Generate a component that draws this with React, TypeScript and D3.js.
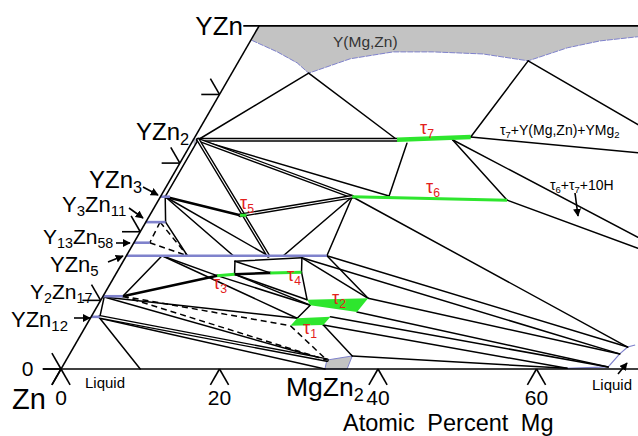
import React from "react";
import * as d3 from "d3";

type C = [number, number]; // [at.% Mg, at.% Y]

// ---- composition data ----
const mgTicks = [0, 20, 40, 60];
const yTicks = [0, 10, 20, 30, 40];

// binary Zn–Y compounds with their Mg solubility (Y at.%, Mg range)
const compoundRanges: { y: number; mg: [number, number] }[] = [
  { y: 7.6, mg: [0, 1.1] },
  { y: 10.6, mg: [0, 2.5] },
  { y: 16.5, mg: [0, 25.3] },
  { y: 18.4, mg: [0, 2.0] },
  { y: 21.4, mg: [0, 2.5] },
  { y: 25.1, mg: [0, 1.2] },
];

// invariant / corner compositions
const P: Record<string, C> = {
  YZn2: [0.6, 33.4], YZn3: [0.6, 25.1], Y3Zn11R: [2.5, 21.4], Y3Zn11D: [1.8, 21.4],
  Y13Zn58R: [2.0, 18.4], Y2Zn17L: [0.2, 10.5], Y2Zn17R: [2.5, 10.6], YZn12R: [1.1, 7.6],
  A1: [9.7, 43.1], A2: [36.5, 44.9],
  t7L: [25.7, 33.4], t7M: [32.7, 33.4], t7R: [34.8, 33.8], t7a: [27.2, 32.9],
  t6L: [24.2, 25.1], t6a: [28.8, 25.2], t6R: [44.0, 24.6],
  t5: [11.4, 22.4],
  z1: [4.5, 16.5], z2: [7.7, 16.5], z3: [13.5, 16.5], z4: [17.9, 16.5], z5: [19.8, 16.5], z6: [25.3, 16.5],
  bTL: [14.1, 15.7], bBL: [15.0, 13.8], bTR: [22.3, 16.2], t4L: [19.4, 14.0], t4R: [23.3, 14.1], t3L: [12.9, 13.6],
  t2a: [26.0, 10.1], t2b: [33.6, 10.3], t2c: [33.2, 8.3], t2d: [26.8, 9.3],
  t1a: [25.8, 6.3], t1b: [26.1, 7.4], t1c: [30.2, 7.6], t1d: [29.9, 6.4],
  m1: [32.9, 1.3], m2: [35.8, 1.9], m3: [36.1, 0], m4: [33.3, 0],
  r0: [70.7, 3.5], r1: [69.9, 3.2], r2: [69.4, 2.2], r3: [68.9, 0.3], r4: [63.8, 0.1],
  e1: [55.0, 35.6], e2: [57.1, 31.5], e3: [63.2, 19.2], e4: [64.0, 17.6],
  L1: [1.2, 7.4], L2: [10.0, 0],
};

const solidLines: [string, string][] = [
  ["YZn2", "A1"], ["A1", "t7L"], ["A2", "t7R"], ["t7R", "e2"], ["A2", "e1"], ["t7M", "t6R"], ["t7M", "e3"],
  ["t6R", "e4"], ["t7a", "t6a"], ["YZn2", "t6a"], ["YZn2", "YZn3"], ["YZn3", "Y3Zn11R"], ["Y3Zn11R", "z2"],
  ["YZn3", "z3"], ["YZn3", "z4"], ["t6L", "z5"], ["t6L", "z6"], ["t6L", "r1"],
  ["z1", "Y2Zn17R"], ["z1", "t3L"], ["z1", "t1b"], ["t3L", "t2d"], ["bTL", "bBL"], ["bTL", "t4L"], ["bTL", "bTR"],
  ["bTR", "t4R"], ["bTR", "t2b"], ["bTR", "r2"], ["t4R", "t2a"], ["bBL", "t2a"], ["bBL", "t2d"], ["t2d", "t1b"],
  ["z6", "t2b"], ["z6", "r1"], ["t2b", "r2"], ["t2c", "r3"], ["t1c", "r3"], ["t1d", "r4"], ["m2", "r4"],
  ["t1d", "m2"], ["Y2Zn17L", "YZn12R"], ["Y2Zn17L", "t1b"], ["Y2Zn17L", "m1"], ["L1", "L2"], ["L1", "m4"],
];
const thickLines: [string, string][] = [["YZn3", "t5"], ["Y2Zn17R", "t3L"], ["bBL", "t4L"]];
const doubleLines: [string, string][] = [["YZn2", "t7L"], ["YZn2", "t6L"], ["YZn2", "z4"], ["t5", "t6L"], ["YZn12R", "m1"]];
const dashedLines: [string, string][] = [
  ["Y3Zn11D", "Y13Zn58R"], ["Y13Zn58R", "z2"], ["Y3Zn11D", "z2"],
  ["Y2Zn17R", "t1a"], ["Y2Zn17R", "m1"], ["t1a", "m1"],
];

// Y(Mg,Zn) phase field lower boundary (left to right)
const yMgZnEdge: C[] = [
  [0.1, 47.9], [4.2, 46.2], [7.5, 44.6], [9.7, 43.1], [13.9, 45.2], [18.8, 46.2], [23.9, 46.2],
  [30.3, 45.9], [36.5, 44.9], [40.5, 46.8], [44.1, 47.8], [48.5, 48.4], [51.5, 48.7],
];
const mgZn2Field: C[] = [P.m1, P.m2, P.m3, P.m4];
const yZn2Field: C[] = [[-0.2, 33.6], [1.0, 33.6], [0.5, 32.6]];
const tau1: C[] = [P.t1a, P.t1b, P.t1c, P.t1d];
const tau2: C[] = [P.t2a, P.t2b, P.t2c, P.t2d];
const tauSegments: [string, string, number][] = [
  ["t3L", "bBL", 3], ["t4L", "t4R", 3], ["t6L", "t6R", 3], ["t7L", "t7R", 4.5],
];
const mgCorner: C[] = [P.r0, P.r1, P.r2, P.r3, P.r4];

// ---- projection ----
const sx = d3.scaleLinear().domain([0, 100]).range([61, 61 + 792.5]);
const sy = d3.scaleLinear().domain([0, 100]).range([369, 369 - 686.35]);
const pt = ([m, y]: C): [number, number] => [sx(m + y / 2), sy(y)];
const path = (pts: C[]) => d3.line()(pts.map(pt)) as string;
const closed = (pts: C[]) => path(pts) + "Z";

const FONT = "Arial, 'Liberation Sans', Helvetica, sans-serif";
const RED = "#e3211c";
const GREEN = "#2ee62e";
const BLUE = "#7f82cc";

type Part = [string, boolean];
function Chem({ x, y, size, parts, anchor = "start", fill = "#000" }:
  { x: number; y: number; size: number; parts: Part[]; anchor?: string; fill?: string }) {
  let shifted = false;
  const sh = size * 0.2;
  return (
    <text x={x} y={y} fontSize={size} fontFamily={FONT} textAnchor={anchor} fill={fill}>
      {parts.map(([t, s], i) => {
        const dy = s && !shifted ? sh : !s && shifted ? -sh : 0;
        shifted = s;
        return <tspan key={i} dy={dy} fontSize={s ? size * 0.68 : size}>{t}</tspan>;
      })}
    </text>
  );
}

const Arrow = ({ x1, y1, x2, y2 }: { x1: number; y1: number; x2: number; y2: number }) => (
  <line x1={x1} y1={y1} x2={x2} y2={y2} stroke="#000" strokeWidth={1.6} markerEnd="url(#ah)" />
);

export default function App() {
  const seg = (a: string, b: string) => path([P[a], P[b]]);
  return (
    <svg width={638} height={436} style={{ position: "absolute", left: 0, top: 0, background: "#fff" }}>
      <defs>
        <marker id="ah" viewBox="0 0 10 10" refX="9" refY="5" markerWidth="5" markerHeight="5" orient="auto">
          <path d="M0,0 L10,5 L0,10 Z" fill="#000" />
        </marker>
      </defs>

      {/* phase fields */}
      <path d={closed([[0, 50], [52, 50], ...yMgZnEdge.slice().reverse()])} fill="#c3c3c3" />
      <path d={path(yMgZnEdge)} fill="none" stroke={BLUE} strokeWidth={1} strokeDasharray="6 1" />
      <path d={closed(mgZn2Field)} fill="#c3c3c3" stroke={BLUE} strokeWidth={1} />
      <path d={closed(yZn2Field)} fill="#b8b8c8" />
      <path d={path(mgCorner)} fill="none" stroke={BLUE} strokeWidth={1.2} />

      {/* tie lines */}
      <g fill="none" stroke="#000" strokeLinecap="round">
        {solidLines.map(([a, b], i) => <path key={"s" + i} d={seg(a, b)} strokeWidth={1.5} />)}
        {thickLines.map(([a, b], i) => <path key={"t" + i} d={seg(a, b)} strokeWidth={2.6} />)}
        {doubleLines.map(([a, b], i) => (
          <g key={"d" + i}>
            <path d={seg(a, b)} strokeWidth={3.8} />
            <path d={seg(a, b)} strokeWidth={1.1} stroke="#fff" />
          </g>
        ))}
        {dashedLines.map(([a, b], i) => <path key={"k" + i} d={seg(a, b)} strokeWidth={1.5} strokeDasharray="6 4" strokeLinecap="butt" />)}
      </g>

      {/* compound solubility ranges */}
      {compoundRanges.map((c, i) => (
        <path key={i} d={path([[c.mg[0], c.y], [c.mg[1], c.y]])} stroke={BLUE} strokeWidth={2.6} fill="none" />
      ))}

      {/* ternary phases */}
      <path d={closed(tau1)} fill={GREEN} />
      <path d={closed(tau2)} fill={GREEN} />
      {tauSegments.map(([a, b, w], i) => (
        <path key={i} d={seg(a, b)} stroke={GREEN} strokeWidth={w} fill="none" />
      ))}
      <path d={path([P.t5, [P.t5[0] + 0.8, P.t5[1]]])} stroke={GREEN} strokeWidth={3} />

      {/* frame */}
      <g fill="none" stroke="#000" strokeWidth={1.6}>
        <path d={path([[0, -2.3], [0, 50]])} />
        <path d={path([[-2.3, 0], [80, 0]])} />
        <path d={path([[-2.0, 50], [60, 50]])} />
        {mgTicks.map((m) => (
          <g key={"m" + m}>
            <path d={path([[m, 0], [m, -2.3]])} />
            <path d={path([[m, 0], [m + 2.3, -2.3]])} />
          </g>
        ))}
        {yTicks.map((y) => (
          <g key={"y" + y}>
            <path d={path([[0, y], [-2.3, y]])} />
            <path d={path([[0, y], [-2.3, y + 2.3]])} />
          </g>
        ))}
      </g>

      {/* axis text */}
      <g fontFamily={FONT} fill="#000">
        <text x={sx(-4.2)} y={376} fontSize={21} textAnchor="middle">0</text>
        {mgTicks.map((m) => (
          <text key={m} x={sx(m)} y={405} fontSize={21} textAnchor="middle">{m}</text>
        ))}
        <text x={343} y={431} fontSize={23.5} wordSpacing={6}>Atomic Percent Mg</text>
        <text x={12} y={409} fontSize={29}>Zn</text>
        <text x={85} y={388} fontSize={15}>Liquid</text>
        <text x={592} y={390} fontSize={15}>Liquid</text>
        <text x={333} y={47} fontSize={15.5} fill="#333">Y(Mg,Zn)</text>
      </g>
      <Chem x={286} y={396} size={26.5} parts={[["MgZn", false], ["2", true]]} />
      <Chem x={243} y={35} size={26} anchor="end" parts={[["YZn", false]]} />
      <Chem x={136} y={140} size={24} parts={[["YZn", false], ["2", true]]} />
      <Chem x={89} y={188} size={24} parts={[["YZn", false], ["3", true]]} />
      <Chem x={62} y={212} size={22} parts={[["Y", false], ["3", true], ["Zn", false], ["11", true]]} />
      <Chem x={43} y={244} size={21} parts={[["Y", false], ["13", true], ["Zn", false], ["58", true]]} />
      <Chem x={50} y={272} size={22} parts={[["YZn", false], ["5", true]]} />
      <Chem x={30} y={299} size={21} parts={[["Y", false], ["2", true], ["Zn", false], ["17", true]]} />
      <Chem x={11} y={327} size={22} parts={[["YZn", false], ["12", true]]} />

      <Chem x={500} y={135} size={14} parts={[["τ", false], ["7", true], ["+Y(Mg,Zn)+YMg", false], ["2", true]]} />
      <Chem x={550} y={190} size={14} parts={[["τ", false], ["6", true], ["+τ", false], ["7", true], ["+10H", false]]} />

      {/* τ labels */}
      <Chem x={420} y={134} size={18} fill={RED} parts={[["τ", false], ["7", true]]} />
      <Chem x={426} y={193} size={18} fill={RED} parts={[["τ", false], ["6", true]]} />
      <Chem x={240} y={209} size={18} fill={RED} parts={[["τ", false], ["5", true]]} />
      <Chem x={213} y={289} size={18} fill={RED} parts={[["τ", false], ["3", true]]} />
      <Chem x={287} y={281} size={18} fill={RED} parts={[["τ", false], ["4", true]]} />
      <Chem x={332} y={304} size={18} fill={RED} parts={[["τ", false], ["2", true]]} />
      <Chem x={303} y={334} size={18} fill={RED} parts={[["τ", false], ["1", true]]} />

      {/* label arrows */}
      <Arrow x1={143} y1={187} x2={158} y2={195} />
      <Arrow x1={129} y1={208} x2={143} y2={218} />
      <Arrow x1={116} y1={243} x2={130} y2={243} />
      <Arrow x1={108} y1={262} x2={123} y2={256} />
      <Arrow x1={74} y1={318} x2={90} y2={318} />
      <Arrow x1={575} y1={193} x2={578} y2={216} />
      <Arrow x1={618} y1={374} x2={627} y2={363} />
    </svg>
  );
}
